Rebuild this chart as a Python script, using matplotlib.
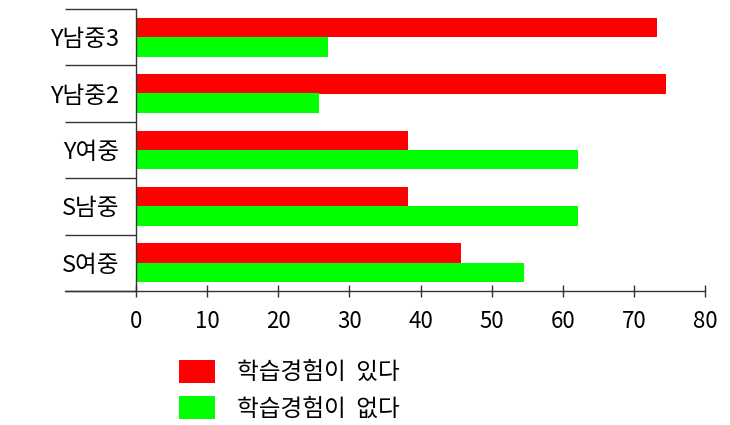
import matplotlib
matplotlib.use("Agg")
import matplotlib.pyplot as plt
import numpy as np

plt.rcParams['font.family'] = ['Noto Sans CJK KR', 'DejaVu Sans']

categories = ["S여중", "S남중", "Y여중", "Y남중2", "Y남중3"]
experienced = [45.7, 38.2, 38.3, 74.5, 73.3]
not_experienced = [54.5, 62.2, 62.1, 25.7, 27.0]
series_names = ["학습경험이  있다", "학습경험이  없다"]
xticks = [0, 10, 20, 30, 40, 50, 60, 70, 80]

fig = plt.figure(figsize=(7.3, 4.25), dpi=100)
W, H = 730, 425
ax = fig.add_axes([136 / W, (H - 291) / H, (705 - 136) / W, (291 - 9) / H])

y = np.arange(len(categories))
h = 0.35
b1 = ax.barh(y + 0.17, experienced, height=h, color="#ff0000", label=series_names[0])
b2 = ax.barh(y - 0.17, not_experienced, height=h, color="#00ff00", label=series_names[1])

ax.set_xlim(0, 80)
ax.set_ylim(-0.5, len(categories) - 0.5)

for s in ["top", "right"]:
    ax.spines[s].set_visible(False)
ax.spines["left"].set_color("#333333")
ax.spines["bottom"].set_color("#333333")
ax.spines["left"].set_linewidth(1.0)
ax.spines["bottom"].set_linewidth(1.0)

# x axis
ax.set_xticks(xticks)
ax.set_xticklabels([str(t) for t in xticks], fontsize=16)
ax.tick_params(axis="x", direction="inout", length=9, width=1, color="#333333", pad=9)

# y axis: boundary ticks + centered labels
ax.set_yticks(np.arange(-0.5, len(categories), 1.0))
ax.set_yticklabels([])
ax.tick_params(axis="y", which="major", direction="out", length=51, width=1, color="#333333")
ax.set_yticks(y, minor=True)
ax.set_yticklabels(categories, minor=True, fontsize=17)
ax.tick_params(axis="y", which="minor", length=0, pad=12)

# extend bottom axis line to the left
ax.plot([-71 / 569, 0], [0, 0], transform=ax.transAxes, color="#333333", lw=1, clip_on=False)

fs = 17
px = fs * 100 / 72
fig.legend(handles=[b1, b2], labels=series_names, loc="upper left",
           bbox_to_anchor=(179 / W, 1 - 360 / H), frameon=False, fontsize=fs,
           handlelength=36 / px, handleheight=26 / px, handletextpad=22 / px,
           labelspacing=0.5, borderpad=0, borderaxespad=0)

fig.savefig("out.png", dpi=100)
